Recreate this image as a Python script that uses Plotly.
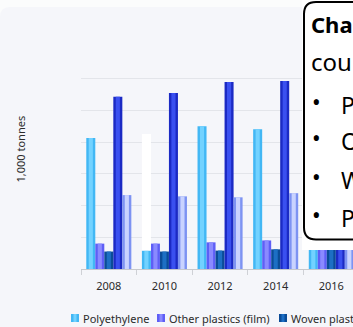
import plotly.graph_objects as go

# ---- data (1,000 tonnes) ----
years = ["2008", "2010", "2012", "2014", "2016"]
series_names = ["Polyethylene", "Other plastics (film)", "Woven plastics",
                "Plastic sacks and bags", "Plastic containers"]
polyethylene = [413, 58, 450, 441, 452]
other_film = [80, 80, 84, 90, 92]
woven = [55, 55, 58, 62, 60]
sacks_bags = [543, 555, 590, 593, 600]
containers = [233, 229, 226, 239, 245]
# hover band drawn over the selected polyethylene bar (top of band)
hover_top = [None, 426, None, None, None]

series_values = [polyethylene, other_film, woven, sacks_bags, containers]
edge_colors = ["#42b7f4", "#5e5ef6", "#0b4c97", "#1b2ac4", "#7d93f2"]
mid_colors = ["#72d2ff", "#8a8aff", "#1d6fc4", "#3a50f0", "#c9d3ff"]

# ---- layout geometry (pixels) ----
W_FIG, H_FIG = 353, 327
ML, MR, MT, MB = 81, 0, 47, 58
PW = W_FIG - ML - MR
PH = H_FIG - MT - MB


def px(x):
    return (x - ML) / PW


def py(y):
    return (H_FIG - MB - y) / PH


FONT = "Noto Sans"
slot = 0.162          # width of one bar in category units
start = -0.405        # left edge of the first bar relative to category centre

fig = go.Figure()

for i, (name, vals) in enumerate(zip(series_names, series_values)):
    off = start + i * slot
    fig.add_trace(go.Bar(
        x=years, y=vals, name=name, offset=off, width=slot,
        marker=dict(color=edge_colors[i], line=dict(width=0)),
        showlegend=False, hoverinfo="x+y+name",
    ))
    # lighter centre stripe for the rounded, cylinder-like look
    fig.add_trace(go.Bar(
        x=years, y=vals, offset=off + slot * 0.27, width=slot * 0.46,
        marker=dict(color=mid_colors[i], line=dict(width=0)),
        showlegend=False, hoverinfo="skip",
    ))

# white hover band over the selected column
band = [None if t is None else t - p for t, p in zip(hover_top, polyethylene)]
fig.add_trace(go.Bar(
    x=years, y=band, base=polyethylene, offset=start, width=slot,
    marker=dict(color="#ffffff", line=dict(width=0)),
    showlegend=False, hoverinfo="skip",
))

shapes = []
# rounded panel behind the chart
shapes.append(dict(
    type="path", xref="paper", yref="paper", layer="below",
    path=(f"M {px(0)},{py(400)} L {px(0)},{py(17)} Q {px(0)},{py(7)} {px(10)},{py(7)} "
          f"L {px(420)},{py(7)} L {px(420)},{py(400)} Z"),
    fillcolor="#f5f6fa", line=dict(width=0),
))
# summary box: white backing and rounded black frame
shapes.append(dict(
    type="rect", xref="paper", yref="paper", layer="above",
    x0=px(302), x1=px(440), y0=py(250), y1=py(0),
    fillcolor="#ffffff", line=dict(width=0),
))
r = 12
x0b, x1b, y0b, y1b = 304, 460, 2, 239.5
shapes.append(dict(
    type="path", xref="paper", yref="paper", layer="above",
    path=(f"M {px(x0b)},{py(y0b + r)} Q {px(x0b)},{py(y0b)} {px(x0b + r)},{py(y0b)} "
          f"L {px(x1b)},{py(y0b)} L {px(x1b)},{py(y1b)} "
          f"L {px(x0b + r)},{py(y1b)} Q {px(x0b)},{py(y1b)} {px(x0b)},{py(y1b - r)} Z"),
    fillcolor="#ffffff", line=dict(color="#000000", width=2),
))

annotations = []
# y-axis title
annotations.append(dict(
    text="1,000 tonnes", textangle=-90, xref="paper", yref="paper",
    x=px(20), y=py(149.5), xanchor="center", yanchor="middle", showarrow=False,
    font=dict(family=FONT, size=11, color="#2b2b2b"),
))

# legend drawn as swatches plus labels
legend_x = [71, 157, 279]
legend_text_x = [81.5, 168, 289.5]
for i in range(3):
    shapes.append(dict(
        type="rect", xref="paper", yref="paper",
        x0=px(legend_x[i]), x1=px(legend_x[i] + 8), y0=py(322), y1=py(314),
        fillcolor=edge_colors[i], line=dict(width=0),
    ))
    shapes.append(dict(
        type="rect", xref="paper", yref="paper",
        x0=px(legend_x[i] + 2.5), x1=px(legend_x[i] + 5.5), y0=py(322), y1=py(314),
        fillcolor=mid_colors[i], line=dict(width=0),
    ))
    annotations.append(dict(
        text=series_names[i], xref="paper", yref="paper",
        x=px(legend_text_x[i]), y=py(318), xanchor="left", yanchor="middle",
        showarrow=False, borderpad=0,
        font=dict(family=FONT, size=11, color="#2b2b2b"),
    ))

# summary box text
annotations.append(dict(
    text="<b>Chart summary</b>", xref="paper", yref="paper",
    x=px(310), y=py(23.5), xanchor="left", yanchor="middle", showarrow=False,
    borderpad=0, font=dict(family=FONT, size=22, color="#000000"),
))
annotations.append(dict(
    text="countries reporting:", xref="paper", yref="paper",
    x=px(310), y=py(62), xanchor="left", yanchor="middle", showarrow=False,
    borderpad=0, font=dict(family=FONT, size=24, color="#000000"),
))
bullet_y = [103, 139, 178, 216]
for name, yb in zip(series_names[:4], bullet_y):
    annotations.append(dict(
        text="•", xref="paper", yref="paper",
        x=px(310.5), y=py(yb - 1), xanchor="left", yanchor="middle",
        showarrow=False, borderpad=0,
        font=dict(family=FONT, size=23, color="#000000"),
    ))
    annotations.append(dict(
        text=name, xref="paper", yref="paper",
        x=px(340), y=py(yb + 1.5), xanchor="left", yanchor="middle",
        showarrow=False, borderpad=0,
        font=dict(family=FONT, size=23, color="#000000"),
    ))

fig.update_layout(
    width=W_FIG, height=H_FIG, autosize=False,
    margin=dict(l=ML, r=MR, t=MT, b=MB, pad=0),
    paper_bgcolor="#fbfcfc", plot_bgcolor="rgba(0,0,0,0)",
    barmode="overlay", showlegend=False,
    shapes=shapes, annotations=annotations,
    font=dict(family=FONT, size=11, color="#2b2b2b"),
    xaxis=dict(
        type="category", range=[-0.5, 4.39], tickson="boundaries",
        ticks="outside", ticklen=5, tickcolor="#cfd1d6", tickwidth=1,
        ticklabelstandoff=7,
        showline=True, linecolor="#c6c8cc", linewidth=1, showgrid=False,
        tickfont=dict(family=FONT, size=11, color="#2b2b2b"),
        fixedrange=True,
    ),
    yaxis=dict(
        range=[0, 700], dtick=100, showticklabels=False, ticks="",
        showgrid=True, gridcolor="#e3e5ea", gridwidth=1,
        zeroline=False, showline=False, fixedrange=True,
    ),
)

fig.write_html("out.html", config={"displayModeBar": False})
